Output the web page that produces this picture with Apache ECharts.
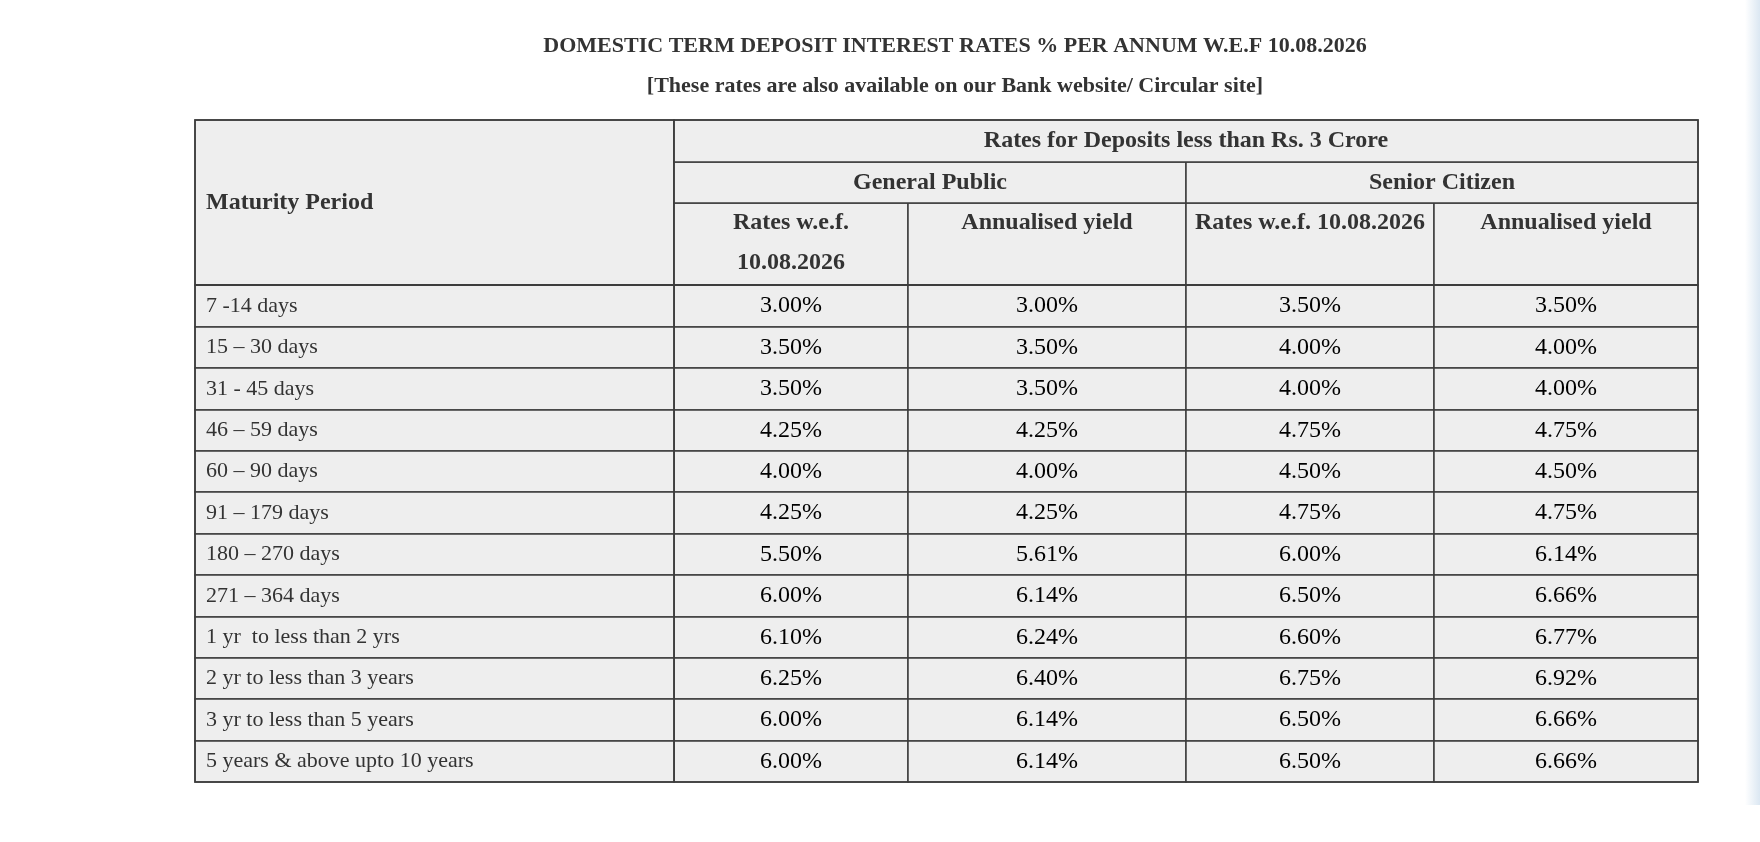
<!DOCTYPE html>
<html>
<head>
<meta charset="utf-8">
<script src="https://cdn.jsdelivr.net/npm/echarts@6.0.0/dist/echarts.min.js"></script>
<style>
  html, body { margin: 0; padding: 0; background: #fff; }
  #main { width: 1760px; height: 842px; }
</style>
</head>
<body>
<div id="main"></div>
<script>
// 表格数据
var periods = ['7 -14 days', '15 – 30 days', '31 - 45 days', '46 – 59 days', '60 – 90 days', '91 – 179 days',
  '180 – 270 days', '271 – 364 days', '1 yr  to less than 2 yrs', '2 yr to less than 3 years',
  '3 yr to less than 5 years', '5 years & above upto 10 years'];
var generalRate = [3.00, 3.50, 3.50, 4.25, 4.00, 4.25, 5.50, 6.00, 6.10, 6.25, 6.00, 6.00];
var generalYield = [3.00, 3.50, 3.50, 4.25, 4.00, 4.25, 5.61, 6.14, 6.24, 6.40, 6.14, 6.14];
var seniorRate = [3.50, 4.00, 4.00, 4.75, 4.50, 4.75, 6.00, 6.50, 6.60, 6.75, 6.50, 6.50];
var seniorYield = [3.50, 4.00, 4.00, 4.75, 4.50, 4.75, 6.14, 6.66, 6.77, 6.92, 6.66, 6.66];
var topHeader = 'Rates for Deposits less than Rs. 3 Crore';
var groups = ['General Public', 'Senior Citizen'];
var leafHeaders = ['Rates w.e.f.\n10.08.2026', 'Annualised yield', 'Rates w.e.f. 10.08.2026', 'Annualised yield'];
var cornerText = 'Maturity Period';

// 版式
var colWidths = [233.5, 278, 248, 264];
var FONT = "'Liberation Serif', 'Times New Roman', serif";
var BORDER = '#3c3c3c';
var CELL_BG = '#eeeeee';

var myChart = echarts.init(document.getElementById('main'));

var headStyle = { fontFamily: FONT, fontSize: 24, fontWeight: 'bold', color: '#333' };
// 两行表头：行高40，两行正好放进 82.6 的格子
var leafLabel = Object.assign({}, headStyle, {
  position: 'insideTop', distance: 0, lineHeight: 40, padding: 0, overflow: 'none'
});

var columns = [generalRate, generalYield, seniorRate, seniorYield];
var bodyData = [];
columns.forEach(function (col, c) {
  col.forEach(function (v, r) {
    bodyData.push({ coord: [c, r], value: v.toFixed(2) + '%' });
  });
});

// 同名表头在类目里会重复，两侧补空格区分
var seen = {};
function uniq(s) {
  while (seen[s]) { s = ' ' + s + ' '; }
  seen[s] = true;
  return s;
}

var option = {
  backgroundColor: '#fff',
  title: [{
    text: 'DOMESTIC TERM DEPOSIT INTEREST RATES % PER ANNUM W.E.F 10.08.2026',
    left: 955, top: 35, textAlign: 'center', padding: 0,
    textStyle: { fontFamily: FONT, fontSize: 22, fontWeight: 'bold', color: '#333' }
  }, {
    text: '[These rates are also available on our Bank website/ Circular site]',
    left: 955, top: 75, textAlign: 'center', padding: 0,
    textStyle: { fontFamily: FONT, fontSize: 22, fontWeight: 'bold', color: '#333' }
  }],
  graphic: [{
    type: 'rect', right: 0, top: 0,
    shape: { width: 15, height: 805 },
    style: {
      fill: new echarts.graphic.LinearGradient(0, 0, 1, 0, [
        { offset: 0, color: '#ffffff' }, { offset: 1, color: '#dbe7f2' }
      ])
    },
    silent: true
  }],
  matrix: {
    left: 195, top: 120, width: 1503, height: 662,
    backgroundStyle: { color: CELL_BG, borderColor: BORDER, borderWidth: 1.5 },
    x: {
      levels: [{ levelSize: 41.3 }, { levelSize: 41.3 }, { levelSize: 82.6 }],
      itemStyle: { color: CELL_BG, borderColor: BORDER, borderWidth: 1.5 },
      dividerLineStyle: { color: BORDER, width: 2 },
      label: headStyle,
      data: [{
        value: topHeader,
        children: groups.map(function (g, gi) {
          return {
            value: g,
            children: [0, 1].map(function (k) {
              var i = gi * 2 + k;
              return { value: uniq(leafHeaders[i]), size: colWidths[i], label: leafLabel };
            })
          };
        })
      }]
    },
    y: {
      levelSize: 479,
      itemStyle: { color: CELL_BG, borderColor: BORDER, borderWidth: 1.5 },
      dividerLineStyle: { color: BORDER, width: 1.5 },
      label: { fontFamily: FONT, fontSize: 22, color: '#333', position: 'insideLeft', distance: 8 },
      data: periods
    },
    corner: {
      itemStyle: { color: CELL_BG, borderColor: BORDER, borderWidth: 1.5 },
      label: Object.assign({}, headStyle, { position: 'insideLeft', distance: 8 }),
      data: [{ coord: [-1, [-3, -1]], value: cornerText, mergeCells: true }]
    },
    body: {
      itemStyle: { color: CELL_BG, borderColor: BORDER, borderWidth: 1.5 },
      label: { show: true, fontFamily: FONT, fontSize: 24, color: '#000' },
      data: bodyData
    }
  }
};

myChart.setOption(option);
</script>
</body>
</html>
